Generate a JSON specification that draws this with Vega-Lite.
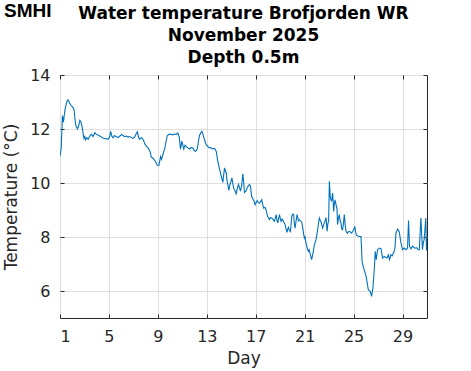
{
  "$schema": "https://vega.github.io/schema/vega-lite/v6.json",
  "autosize": {"type": "none"},
  "width": 367,
  "height": 243,
  "padding": {"left": 60, "top": 75, "right": 44, "bottom": 53},
  "background": "white",
  "config": {
    "font": "DejaVu Sans",
    "view": {"stroke": "#262626", "strokeWidth": 1}
  },
  "title": {
    "text": ["Water temperature Brofjorden WR", "November 2025", "Depth 0.5m"],
    "anchor": "middle",
    "frame": "group",
    "font": "DejaVu Sans",
    "fontSize": 17,
    "fontWeight": "bold",
    "color": "#000000",
    "lineHeight": 22,
    "baseline": "bottom",
    "offset": -82
  },
  "data": {"values": [
    {"day":1.0,"temp":11.0},{"day":1.1,"temp":11.3},{"day":1.2,"temp":12.5},{"day":1.28,"temp":12.25},{"day":1.4,"temp":12.7},{"day":1.55,"temp":13.0},{"day":1.65,"temp":13.08},{"day":1.8,"temp":12.95},{"day":1.9,"temp":12.88},{"day":2.05,"temp":12.8},{"day":2.15,"temp":12.72},{"day":2.22,"temp":12.4},{"day":2.28,"temp":12.15},{"day":2.42,"temp":12.0},{"day":2.52,"temp":12.1},{"day":2.62,"temp":12.32},{"day":2.72,"temp":12.25},{"day":2.8,"temp":12.1},{"day":2.9,"temp":11.8},{"day":2.96,"temp":11.65},{"day":3.03,"temp":11.72},{"day":3.1,"temp":11.6},{"day":3.2,"temp":11.68},{"day":3.3,"temp":11.62},{"day":3.45,"temp":11.75},{"day":3.56,"temp":11.8},{"day":3.7,"temp":11.72},{"day":3.85,"temp":11.86},{"day":3.97,"temp":11.8},{"day":4.1,"temp":11.78},{"day":4.25,"temp":11.74},{"day":4.38,"temp":11.7},{"day":4.55,"temp":11.66},{"day":4.75,"temp":11.64},{"day":4.92,"temp":11.62},{"day":5.05,"temp":11.7},{"day":5.14,"temp":11.91},{"day":5.25,"temp":11.72},{"day":5.33,"temp":11.67},{"day":5.45,"temp":11.75},{"day":5.6,"temp":11.72},{"day":5.75,"temp":11.68},{"day":5.9,"temp":11.74},{"day":6.05,"temp":11.8},{"day":6.14,"temp":11.76},{"day":6.3,"temp":11.72},{"day":6.45,"temp":11.74},{"day":6.55,"temp":11.7},{"day":6.7,"temp":11.72},{"day":6.85,"temp":11.68},{"day":6.96,"temp":11.65},{"day":7.1,"temp":11.7},{"day":7.2,"temp":11.8},{"day":7.32,"temp":11.9},{"day":7.42,"temp":11.7},{"day":7.5,"temp":11.62},{"day":7.6,"temp":11.66},{"day":7.69,"temp":11.68},{"day":7.8,"temp":11.6},{"day":7.97,"temp":11.42},{"day":8.1,"temp":11.35},{"day":8.2,"temp":11.3},{"day":8.32,"temp":11.2},{"day":8.4,"temp":11.1},{"day":8.46,"temp":10.96},{"day":8.6,"temp":10.92},{"day":8.73,"temp":10.85},{"day":8.85,"temp":10.75},{"day":8.95,"temp":10.66},{"day":9.08,"temp":10.65},{"day":9.15,"temp":10.8},{"day":9.22,"temp":10.98},{"day":9.3,"temp":10.88},{"day":9.38,"temp":11.0},{"day":9.5,"temp":11.2},{"day":9.55,"temp":11.25},{"day":9.65,"temp":11.5},{"day":9.77,"temp":11.75},{"day":9.9,"temp":11.8},{"day":10.09,"temp":11.8},{"day":10.25,"temp":11.78},{"day":10.36,"temp":11.82},{"day":10.5,"temp":11.8},{"day":10.63,"temp":11.85},{"day":10.75,"temp":11.7},{"day":10.85,"temp":11.25},{"day":10.96,"temp":11.55},{"day":11.04,"temp":11.4},{"day":11.12,"temp":11.26},{"day":11.22,"temp":11.4},{"day":11.32,"temp":11.36},{"day":11.45,"temp":11.3},{"day":11.59,"temp":11.26},{"day":11.72,"temp":11.32},{"day":11.86,"temp":11.3},{"day":11.95,"temp":11.22},{"day":12.06,"temp":11.17},{"day":12.15,"temp":11.22},{"day":12.22,"temp":11.26},{"day":12.3,"temp":11.5},{"day":12.4,"temp":11.75},{"day":12.5,"temp":11.85},{"day":12.6,"temp":11.92},{"day":12.7,"temp":11.78},{"day":12.81,"temp":11.6},{"day":12.95,"temp":11.42},{"day":13.1,"temp":11.35},{"day":13.22,"temp":11.3},{"day":13.35,"temp":11.3},{"day":13.49,"temp":11.26},{"day":13.6,"temp":11.28},{"day":13.69,"temp":11.25},{"day":13.77,"temp":11.17},{"day":13.9,"temp":10.8},{"day":13.96,"temp":10.68},{"day":14.08,"temp":10.45},{"day":14.18,"temp":10.25},{"day":14.31,"temp":10.02},{"day":14.38,"temp":10.3},{"day":14.45,"temp":10.56},{"day":14.52,"temp":10.45},{"day":14.59,"temp":10.38},{"day":14.65,"temp":10.1},{"day":14.72,"temp":9.95},{"day":14.8,"temp":9.73},{"day":14.87,"temp":9.9},{"day":14.94,"temp":10.0},{"day":15.05,"temp":10.19},{"day":15.12,"temp":10.0},{"day":15.2,"temp":9.8},{"day":15.3,"temp":9.72},{"day":15.4,"temp":9.6},{"day":15.5,"temp":9.8},{"day":15.59,"temp":9.95},{"day":15.68,"temp":9.82},{"day":15.75,"temp":9.7},{"day":15.85,"temp":9.9},{"day":15.94,"temp":10.34},{"day":16.02,"temp":10.0},{"day":16.08,"temp":9.65},{"day":16.2,"temp":9.7},{"day":16.3,"temp":9.82},{"day":16.4,"temp":9.9},{"day":16.49,"temp":9.94},{"day":16.57,"temp":9.88},{"day":16.67,"temp":9.5},{"day":16.76,"temp":9.42},{"day":16.85,"temp":9.35},{"day":16.95,"temp":9.2},{"day":17.05,"temp":9.3},{"day":17.12,"temp":9.35},{"day":17.2,"temp":9.28},{"day":17.3,"temp":9.25},{"day":17.4,"temp":9.32},{"day":17.49,"temp":9.38},{"day":17.57,"temp":9.2},{"day":17.65,"temp":9.07},{"day":17.75,"temp":9.1},{"day":17.85,"temp":9.0},{"day":17.92,"temp":8.85},{"day":17.98,"temp":8.76},{"day":18.05,"temp":8.7},{"day":18.12,"temp":8.64},{"day":18.22,"temp":8.72},{"day":18.31,"temp":8.7},{"day":18.42,"temp":8.65},{"day":18.53,"temp":8.58},{"day":18.6,"temp":8.7},{"day":18.67,"temp":8.83},{"day":18.75,"temp":8.6},{"day":18.8,"temp":8.52},{"day":18.88,"temp":8.7},{"day":18.94,"temp":8.83},{"day":19.0,"temp":8.7},{"day":19.07,"temp":8.58},{"day":19.14,"temp":8.66},{"day":19.2,"temp":8.64},{"day":19.3,"temp":8.55},{"day":19.4,"temp":8.46},{"day":19.48,"temp":8.3},{"day":19.56,"temp":8.17},{"day":19.62,"temp":8.3},{"day":19.67,"temp":8.36},{"day":19.75,"temp":8.25},{"day":19.83,"temp":8.2},{"day":19.9,"temp":8.5},{"day":19.94,"temp":8.76},{"day":20.02,"temp":8.85},{"day":20.1,"temp":8.83},{"day":20.16,"temp":8.5},{"day":20.22,"temp":8.33},{"day":20.3,"temp":8.6},{"day":20.38,"temp":8.83},{"day":20.45,"temp":8.7},{"day":20.49,"temp":8.6},{"day":20.57,"temp":8.64},{"day":20.7,"temp":8.58},{"day":20.76,"temp":8.55},{"day":20.84,"temp":8.35},{"day":20.92,"temp":8.1},{"day":20.98,"temp":7.96},{"day":21.03,"temp":8.0},{"day":21.1,"temp":7.8},{"day":21.2,"temp":7.6},{"day":21.3,"temp":7.47},{"day":21.37,"temp":7.53},{"day":21.47,"temp":7.34},{"day":21.57,"temp":7.16},{"day":21.65,"temp":7.34},{"day":21.72,"temp":7.5},{"day":21.79,"temp":7.71},{"day":21.93,"temp":7.9},{"day":22.0,"temp":8.1},{"day":22.06,"temp":8.27},{"day":22.13,"temp":8.5},{"day":22.2,"temp":8.7},{"day":22.27,"temp":8.62},{"day":22.33,"temp":8.58},{"day":22.4,"temp":8.45},{"day":22.47,"temp":8.33},{"day":22.55,"temp":8.45},{"day":22.66,"temp":8.58},{"day":22.75,"temp":8.72},{"day":22.8,"temp":8.4},{"day":22.83,"temp":8.21},{"day":22.9,"temp":8.5},{"day":22.96,"temp":8.6},{"day":23.02,"temp":10.06},{"day":23.1,"temp":9.44},{"day":23.2,"temp":9.32},{"day":23.29,"temp":9.63},{"day":23.37,"temp":8.95},{"day":23.42,"temp":9.2},{"day":23.48,"temp":9.38},{"day":23.56,"temp":9.2},{"day":23.64,"temp":9.07},{"day":23.69,"temp":8.46},{"day":23.76,"temp":8.7},{"day":23.83,"temp":8.83},{"day":23.9,"temp":8.6},{"day":23.97,"temp":8.52},{"day":24.03,"temp":8.3},{"day":24.1,"temp":8.27},{"day":24.17,"temp":8.5},{"day":24.24,"temp":8.83},{"day":24.3,"temp":8.5},{"day":24.38,"temp":8.21},{"day":24.5,"temp":8.14},{"day":24.58,"temp":8.2},{"day":24.65,"temp":8.21},{"day":24.75,"temp":8.18},{"day":24.84,"temp":8.14},{"day":24.92,"temp":8.2},{"day":25.0,"temp":8.27},{"day":25.1,"temp":8.39},{"day":25.16,"temp":8.2},{"day":25.22,"temp":8.08},{"day":25.35,"temp":8.04},{"day":25.47,"temp":8.02},{"day":25.6,"temp":8.02},{"day":25.65,"temp":7.6},{"day":25.69,"temp":7.1},{"day":25.82,"temp":6.85},{"day":25.93,"temp":6.69},{"day":26.02,"temp":6.55},{"day":26.09,"temp":6.36},{"day":26.2,"temp":6.05},{"day":26.36,"temp":5.99},{"day":26.47,"temp":5.8},{"day":26.58,"temp":6.11},{"day":26.69,"temp":6.79},{"day":26.77,"temp":7.47},{"day":26.85,"temp":7.16},{"day":26.96,"temp":7.53},{"day":27.1,"temp":7.59},{"day":27.24,"temp":7.57},{"day":27.3,"temp":7.4},{"day":27.37,"temp":7.22},{"day":27.5,"temp":7.28},{"day":27.6,"temp":7.25},{"day":27.73,"temp":7.22},{"day":27.84,"temp":7.34},{"day":27.94,"temp":7.16},{"day":28.05,"temp":7.34},{"day":28.15,"temp":7.3},{"day":28.22,"temp":7.38},{"day":28.3,"temp":7.45},{"day":28.38,"temp":7.59},{"day":28.46,"temp":8.14},{"day":28.6,"temp":8.3},{"day":28.73,"temp":8.2},{"day":28.87,"temp":7.78},{"day":29.0,"temp":7.53},{"day":29.14,"temp":7.59},{"day":29.28,"temp":7.53},{"day":29.41,"temp":7.59},{"day":29.49,"temp":8.61},{"day":29.57,"temp":7.66},{"day":29.69,"temp":7.56},{"day":29.82,"temp":7.66},{"day":30.0,"temp":7.59},{"day":30.17,"temp":7.6},{"day":30.27,"temp":7.53},{"day":30.37,"temp":7.53},{"day":30.5,"temp":8.7},{"day":30.63,"temp":7.53},{"day":30.7,"temp":7.8},{"day":30.77,"temp":7.9},{"day":30.9,"temp":8.7},{"day":30.96,"temp":7.5},{"day":31.0,"temp":8.0}
  ]},
  "layer": [
    {
      "mark": {"type": "line", "color": "#0072BD", "strokeWidth": 1.1, "clip": true},
      "encoding": {
        "x": {"field": "day", "type": "quantitative",
          "scale": {"domain": [1, 31], "nice": false, "zero": false},
          "axis": {"orient": "bottom", "values": [1, 5, 9, 13, 17, 21, 25, 29], "format": "d",
            "grid": true, "gridColor": "#dfdfdf", "gridWidth": 1, "domain": false,
            "tickSize": -4, "tickColor": "#262626", "labelPadding": 14,
            "labelFont": "DejaVu Sans", "labelFontSize": 16, "labelColor": "#262626",
            "title": "Day", "titleFont": "DejaVu Sans", "titleFontSize": 17, "titleFontWeight": "normal",
            "titleColor": "#262626", "titlePadding": 6}},
        "y": {"field": "temp", "type": "quantitative",
          "scale": {"domain": [5, 14], "nice": false, "zero": false},
          "axis": {"orient": "left", "values": [6, 8, 10, 12, 14], "format": "d",
            "grid": true, "gridColor": "#dfdfdf", "gridWidth": 1, "domain": false,
            "tickSize": -4, "tickColor": "#262626", "labelPadding": 14,
            "labelFont": "DejaVu Sans", "labelFontSize": 16, "labelColor": "#262626",
            "title": "Temperature (°C)", "titleFont": "DejaVu Sans", "titleFontSize": 17, "titleFontWeight": "normal",
            "titleColor": "#262626", "titlePadding": 9}}
      }
    },
    {
      "mark": {"type": "line", "opacity": 0},
      "encoding": {
        "x": {"field": "day", "type": "quantitative",
          "axis": {"orient": "top", "values": [1, 5, 9, 13, 17, 21, 25, 29], "labels": false,
            "grid": false, "domain": false, "tickSize": -4, "tickColor": "#262626", "title": null}},
        "y": {"field": "temp", "type": "quantitative",
          "axis": {"orient": "right", "values": [6, 8, 10, 12, 14], "labels": false,
            "grid": false, "domain": false, "tickSize": -4, "tickColor": "#262626", "title": null}}
      }
    },
    {
      "data": {"values": [{"logo": "SMHI"}]},
      "mark": {"type": "text", "font": "Liberation Sans", "fontWeight": "bold", "fontSize": 19,
        "color": "#000000", "align": "center", "baseline": "alphabetic", "clip": false},
      "encoding": {
        "x": {"datum": -1.64, "type": "quantitative", "axis": null},
        "y": {"datum": 16.15, "type": "quantitative", "axis": null},
        "text": {"field": "logo"}
      }
    }
  ],
  "resolve": {"axis": {"x": "independent", "y": "independent"}}
}
